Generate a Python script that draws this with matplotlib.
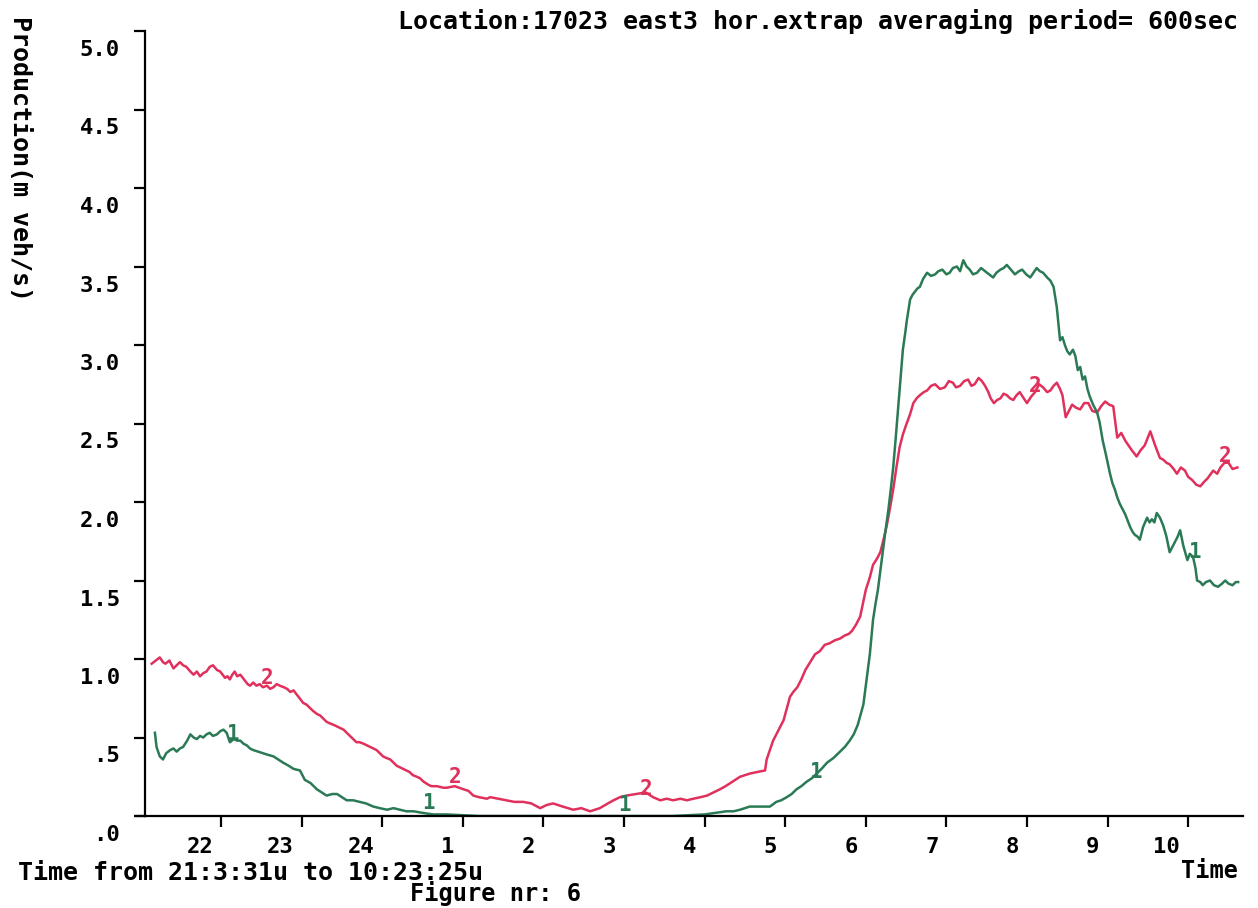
import matplotlib.pyplot as plt
from matplotlib.transforms import ScaledTranslation

# time in hours after midnight of the first day (24+ = next day)
t_east2 = [21.14, 21.19, 21.24, 21.28, 21.31, 21.36, 21.41, 21.45, 21.49, 21.53, 21.57, 21.62, 21.66,
           21.70, 21.74, 21.78, 21.82, 21.86, 21.90, 21.95, 21.99, 22.02, 22.05, 22.08, 22.11, 22.14,
           22.17, 22.20, 22.24, 22.27, 22.30, 22.33, 22.36, 22.40, 22.44, 22.48, 22.52, 22.57, 22.61,
           22.65, 22.69, 22.73, 22.78, 22.82, 22.86, 22.90, 22.93, 22.96, 22.99, 23.02, 23.06, 23.10,
           23.14, 23.19, 23.23, 23.27, 23.31, 23.35, 23.40, 23.44, 23.48, 23.52, 23.56, 23.60, 23.64,
           23.68, 23.72, 23.77, 23.81, 23.85, 23.89, 23.93, 23.97, 24.01, 24.05, 24.10, 24.14, 24.18,
           24.22, 24.26, 24.30, 24.34, 24.38, 24.43, 24.47, 24.51, 24.57, 24.61, 24.68, 24.76, 24.80,
           24.90, 25.01, 25.07, 25.13, 25.20, 25.30, 25.34, 25.44, 25.54, 25.64, 25.75, 25.85, 25.96,
           26.04, 26.12, 26.24, 26.37, 26.47, 26.58, 26.70, 26.80, 26.87, 26.95, 27.03, 27.15, 27.27,
           27.36, 27.45, 27.53, 27.61, 27.70, 27.78, 27.86, 27.95, 28.03, 28.11, 28.19, 28.26, 28.32,
           28.38, 28.44, 28.50, 28.56, 28.65, 28.75, 28.77, 28.81, 28.85, 28.92, 28.98, 29.06, 29.10,
           29.15, 29.20, 29.25, 29.31, 29.37, 29.43, 29.49, 29.55, 29.62, 29.68, 29.74, 29.79, 29.83,
           29.88, 29.93, 30.00, 30.05, 30.09, 30.14, 30.18, 30.22, 30.26, 30.30, 30.34, 30.38, 30.42,
           30.46, 30.50, 30.55, 30.59, 30.63, 30.67, 30.72, 30.76, 30.81, 30.86, 30.92, 30.98, 31.03,
           31.08, 31.12, 31.17, 31.22, 31.27, 31.31, 31.35, 31.40, 31.44, 31.48, 31.52, 31.55, 31.59,
           31.63, 31.67, 31.71, 31.75, 31.79, 31.83, 31.87, 31.91, 31.96, 32.00, 32.05, 32.10, 32.15,
           32.20, 32.25, 32.29, 32.33, 32.37, 32.41, 32.44, 32.48, 32.52, 32.56, 32.61, 32.66, 32.71,
           32.76, 32.81, 32.87, 32.92, 32.97, 33.02, 33.07, 33.12, 33.17, 33.22, 33.26, 33.30, 33.36,
           33.41, 33.46, 33.53, 33.59, 33.65, 33.69, 33.73, 33.77, 33.82, 33.86, 33.91, 33.96, 34.00,
           34.05, 34.10, 34.15, 34.20, 34.24, 34.31, 34.36, 34.40, 34.45, 34.50, 34.55, 34.61]
q_east2 = [0.97, 0.99, 1.01, 0.98, 0.97, 0.99, 0.94, 0.96, 0.98, 0.96, 0.95, 0.92, 0.90,
           0.92, 0.89, 0.91, 0.92, 0.95, 0.96, 0.93, 0.92, 0.90, 0.88, 0.89, 0.87, 0.90,
           0.92, 0.89, 0.90, 0.88, 0.86, 0.84, 0.83, 0.85, 0.83, 0.84, 0.82, 0.83, 0.81,
           0.82, 0.84, 0.83, 0.82, 0.81, 0.79, 0.80, 0.78, 0.76, 0.74, 0.72, 0.71, 0.69,
           0.67, 0.65, 0.64, 0.62, 0.60, 0.59, 0.58, 0.57, 0.56, 0.55, 0.53, 0.51, 0.49,
           0.47, 0.47, 0.46, 0.45, 0.44, 0.43, 0.42, 0.40, 0.38, 0.37, 0.36, 0.34, 0.32,
           0.31, 0.30, 0.29, 0.28, 0.26, 0.25, 0.24, 0.22, 0.20, 0.19, 0.19, 0.18, 0.18,
           0.19, 0.17, 0.16, 0.13, 0.12, 0.11, 0.12, 0.11, 0.10, 0.09, 0.09, 0.08, 0.05,
           0.07, 0.08, 0.06, 0.04, 0.05, 0.03, 0.05, 0.08, 0.10, 0.12, 0.13, 0.14, 0.15,
           0.12, 0.10, 0.11, 0.10, 0.11, 0.10, 0.11, 0.12, 0.13, 0.15, 0.17, 0.19, 0.21,
           0.23, 0.25, 0.26, 0.27, 0.28, 0.29, 0.36, 0.42, 0.48, 0.55, 0.61, 0.76, 0.79,
           0.82, 0.87, 0.93, 0.98, 1.03, 1.05, 1.09, 1.10, 1.12, 1.13, 1.15, 1.16, 1.18,
           1.22, 1.27, 1.44, 1.52, 1.60, 1.64, 1.68, 1.76, 1.85, 1.96, 2.08, 2.22, 2.35,
           2.43, 2.49, 2.56, 2.63, 2.66, 2.68, 2.70, 2.71, 2.74, 2.75, 2.72, 2.73, 2.77,
           2.76, 2.73, 2.74, 2.77, 2.78, 2.74, 2.75, 2.79, 2.77, 2.74, 2.70, 2.66, 2.63,
           2.65, 2.66, 2.69, 2.68, 2.66, 2.65, 2.68, 2.70, 2.66, 2.63, 2.67, 2.70, 2.75,
           2.73, 2.70, 2.71, 2.74, 2.76, 2.72, 2.68, 2.54, 2.58, 2.62, 2.60, 2.59, 2.63,
           2.63, 2.58, 2.57, 2.61, 2.64, 2.62, 2.61, 2.41, 2.44, 2.39, 2.36, 2.33, 2.29,
           2.33, 2.36, 2.45, 2.36, 2.28, 2.27, 2.25, 2.24, 2.21, 2.18, 2.22, 2.20, 2.16,
           2.14, 2.11, 2.10, 2.13, 2.15, 2.20, 2.18, 2.22, 2.25, 2.25, 2.21, 2.22]

t_east1 = [21.18, 21.20, 21.24, 21.28, 21.32, 21.37, 21.41, 21.45, 21.49, 21.53, 21.58, 21.62, 21.66,
           21.70, 21.74, 21.78, 21.82, 21.86, 21.90, 21.95, 21.99, 22.03, 22.07, 22.11, 22.16, 22.20,
           22.24, 22.28, 22.32, 22.36, 22.40, 22.46, 22.52, 22.58, 22.65, 22.71, 22.77, 22.84, 22.90,
           22.98, 23.04, 23.11, 23.19, 23.25, 23.31, 23.38, 23.44, 23.50, 23.56, 23.64, 23.72, 23.80,
           23.89, 23.97, 24.06, 24.14, 24.22, 24.30, 24.39, 24.50, 24.63, 24.80, 25.20, 25.80, 26.40,
           27.00, 27.60, 28.00, 28.27, 28.36, 28.44, 28.50, 28.56, 28.68, 28.81, 28.89, 28.95, 29.02,
           29.08, 29.14, 29.20, 29.27, 29.33, 29.39, 29.45, 29.52, 29.60, 29.68, 29.74, 29.80, 29.85,
           29.90, 29.97, 30.01, 30.05, 30.09, 30.12, 30.15, 30.18, 30.21, 30.24, 30.28, 30.31, 30.34,
           30.37, 30.40, 30.43, 30.46, 30.49, 30.51, 30.55, 30.58, 30.61, 30.64, 30.67, 30.71, 30.76,
           30.81, 30.86, 30.90, 30.95, 31.00, 31.04, 31.08, 31.13, 31.17, 31.21, 31.25, 31.29, 31.33,
           31.38, 31.43, 31.48, 31.53, 31.58, 31.62, 31.67, 31.71, 31.75, 31.80, 31.85, 31.90, 31.94,
           31.99, 32.04, 32.08, 32.12, 32.16, 32.20, 32.25, 32.29, 32.33, 32.37, 32.41, 32.44, 32.47,
           32.50, 32.53, 32.57, 32.60, 32.63, 32.66, 32.69, 32.72, 32.75, 32.78, 32.82, 32.87, 32.90,
           32.94, 32.98, 33.03, 33.06, 33.09, 33.12, 33.15, 33.18, 33.22, 33.25, 33.28, 33.31, 33.34,
           33.37, 33.40, 33.44, 33.49, 33.52, 33.55, 33.58, 33.61, 33.65, 33.69, 33.73, 33.77, 33.80,
           33.84, 33.87, 33.90, 33.94, 33.99, 34.02, 34.06, 34.09, 34.11, 34.15, 34.18, 34.22, 34.27,
           34.32, 34.37, 34.42, 34.46, 34.50, 34.55, 34.59, 34.62]
q_east1 = [0.53, 0.44, 0.38, 0.36, 0.40, 0.42, 0.43, 0.41, 0.43, 0.44, 0.48, 0.52, 0.50,
           0.49, 0.51, 0.50, 0.52, 0.53, 0.51, 0.52, 0.54, 0.55, 0.53, 0.47, 0.49, 0.48,
           0.48, 0.46, 0.45, 0.43, 0.42, 0.41, 0.40, 0.39, 0.38, 0.36, 0.34, 0.32, 0.30,
           0.29, 0.23, 0.21, 0.17, 0.15, 0.13, 0.14, 0.14, 0.12, 0.10, 0.10, 0.09, 0.08,
           0.06, 0.05, 0.04, 0.05, 0.04, 0.03, 0.03, 0.02, 0.01, 0.01, 0.00, 0.00, 0.00,
           0.00, 0.00, 0.01, 0.03, 0.03, 0.04, 0.05, 0.06, 0.06, 0.06, 0.09, 0.10, 0.12,
           0.14, 0.17, 0.19, 0.22, 0.24, 0.27, 0.30, 0.34, 0.37, 0.41, 0.44, 0.48, 0.52,
           0.58, 0.71, 0.87, 1.03, 1.25, 1.35, 1.44, 1.56, 1.68, 1.80, 1.95, 2.08, 2.22,
           2.40, 2.59, 2.78, 2.97, 3.08, 3.16, 3.29, 3.32, 3.34, 3.36, 3.37, 3.42, 3.46,
           3.44, 3.45, 3.47, 3.48, 3.45, 3.46, 3.49, 3.50, 3.47, 3.54, 3.50, 3.48, 3.45,
           3.46, 3.49, 3.47, 3.45, 3.43, 3.46, 3.48, 3.49, 3.51, 3.48, 3.45, 3.47, 3.48,
           3.45, 3.43, 3.46, 3.49, 3.47, 3.46, 3.43, 3.41, 3.37, 3.24, 3.03, 3.05, 3.00,
           2.96, 2.94, 2.97, 2.93, 2.84, 2.86, 2.78, 2.80, 2.72, 2.67, 2.62, 2.57, 2.51,
           2.39, 2.30, 2.18, 2.12, 2.08, 2.03, 1.99, 1.96, 1.92, 1.88, 1.84, 1.81, 1.79,
           1.78, 1.76, 1.84, 1.90, 1.87, 1.89, 1.87, 1.93, 1.90, 1.85, 1.78, 1.68, 1.71,
           1.75, 1.78, 1.82, 1.72, 1.63, 1.67, 1.65, 1.58, 1.50, 1.49, 1.47, 1.49, 1.50,
           1.47, 1.46, 1.48, 1.50, 1.48, 1.47, 1.49, 1.49]

# curve numbers written along the lines
lab2_t = [22.57, 24.90, 27.27, 32.10, 34.46]
lab2_q = [0.88, 0.25, 0.17, 2.74, 2.29]
lab1_t = [22.14, 24.57, 27.01, 29.37, 34.08]
lab1_q = [0.52, 0.08, 0.07, 0.28, 1.68]

hour_ticks = [22, 23, 24, 25, 26, 27, 28, 29, 30, 31, 32, 33, 34]
hour_labels = ['22', '23', '24', '1', '2', '3', '4', '5', '6', '7', '8', '9', '10']
q_ticks = [0.0, 0.5, 1.0, 1.5, 2.0, 2.5, 3.0, 3.5, 4.0, 4.5, 5.0]
q_labels = ['.0', '.5', '1.0', '1.5', '2.0', '2.5', '3.0', '3.5', '4.0', '4.5', '5.0']

red = '#e0305c'
green = '#2b7a56'
mono = 'DejaVu Sans Mono'

plt.rcParams['font.family'] = mono
plt.rcParams['font.weight'] = 'bold'

fig = plt.figure(figsize=(12.58, 9.08), dpi=100)
ax = fig.add_axes([145 / 1258, 1 - 816 / 908, 1098 / 1258, 785 / 908])

ax.plot(t_east2, q_east2, color=red, lw=1.8)
ax.plot(t_east1, q_east1, color=green, lw=1.8)
for t, q in zip(lab2_t, lab2_q):
    ax.text(t, q, '2', color=red, fontsize=15, ha='center', va='center')
for t, q in zip(lab1_t, lab1_q):
    ax.text(t, q, '1', color=green, fontsize=15, ha='center', va='center')

ax.set_xlim(21.057, 34.68)
ax.set_ylim(0, 5)
ax.spines['top'].set_visible(False)
ax.spines['right'].set_visible(False)
for s in ['left', 'bottom']:
    ax.spines[s].set_linewidth(1.6)
ax.plot([-0.008, 0], [0, 0], color='black', lw=1.6, transform=ax.transAxes, clip_on=False)

ax.set_xticks(hour_ticks)
ax.set_xticklabels(hour_labels, fontsize=16, fontweight='bold', ha='right')
ax.set_yticks(q_ticks)
ax.set_yticklabels(q_labels, fontsize=16, fontweight='bold')
ax.tick_params(axis='both', direction='out', length=8, width=1.6)
ax.tick_params(axis='x', pad=7)
ax.tick_params(axis='y', pad=10)

for lab in ax.get_xticklabels():
    lab.set_transform(lab.get_transform() + ScaledTranslation(-0.08, 0, fig.dpi_scale_trans))
for lab in ax.get_yticklabels():
    lab.set_transform(lab.get_transform() + ScaledTranslation(0, -0.17, fig.dpi_scale_trans))

fig.text(1238 / 1258, 1 - 22 / 908, 'Location:17023 east3 hor.extrap averaging period= 600sec',
         fontsize=18, ha='right', va='center')
fig.text(20 / 1258, 1 - 158 / 908, 'Production(m veh/s)', fontsize=18, rotation=270,
         ha='center', va='center')
fig.text(18 / 1258, 1 - 873 / 908, 'Time from 21:3:31u to 10:23:25u', fontsize=18,
         ha='left', va='center')
fig.text(410 / 1258, 1 - 893 / 908, 'Figure nr: 6', fontsize=17, ha='left', va='center')
fig.text(1238 / 1258, 1 - 871 / 908, 'Time', fontsize=17, ha='right', va='center')

plt.savefig('out.png', dpi=100)
